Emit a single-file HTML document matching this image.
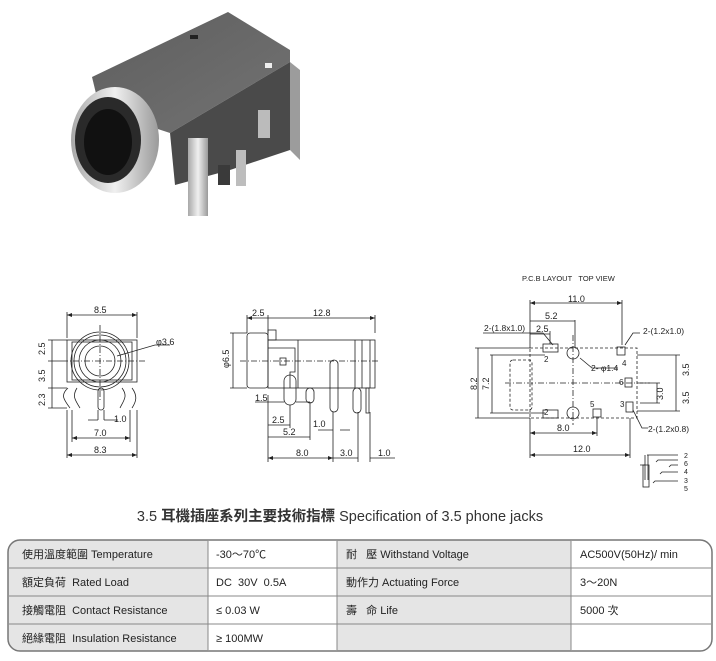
<!DOCTYPE html>
<html><head><meta charset="utf-8"><style>
body{margin:0;background:#fff;width:716px;height:656px;overflow:hidden;font-family:"Liberation Sans","Noto Sans CJK TC",sans-serif}
svg text{font-family:"Liberation Sans","Noto Sans CJK TC",sans-serif}
</style></head><body>
<svg width="716" height="656" viewBox="0 0 716 656" xmlns="http://www.w3.org/2000/svg">
<defs>
<linearGradient id="top" x1="0" y1="0" x2="1" y2="1"><stop offset="0" stop-color="#5e5e5e"/><stop offset="1" stop-color="#737373"/></linearGradient>
<linearGradient id="met" x1="0" y1="0" x2="1" y2="0"><stop offset="0" stop-color="#a8a8a8"/><stop offset=".5" stop-color="#f0f0f0"/><stop offset="1" stop-color="#9a9a9a"/></linearGradient>
<clipPath id="tc"><rect x="8" y="540" width="704" height="111" rx="12"/></clipPath>
</defs>
<!-- photo -->
<polygon points="92,77 228,12 290,50 290,62 170,133 100,110" fill="url(#top)"/>
<polygon points="170,133 290,62 290,150 230,170 175,185" fill="#4a4a4a"/>
<polygon points="290,62 300,70 300,160 290,150" fill="#9c9c9c"/>
<rect x="188" y="138" width="20" height="78" fill="url(#met)"/>
<rect x="236" y="150" width="10" height="36" fill="#bdbdbd"/>
<rect x="258" y="110" width="12" height="28" fill="#bbb"/>
<rect x="218" y="165" width="12" height="20" fill="#3a3a3a"/>
<rect x="190" y="35" width="8" height="4" fill="#222"/>
<rect x="265" y="63" width="7" height="5" fill="#eee"/>
<ellipse cx="115" cy="140" rx="44" ry="53" fill="url(#met)"/>
<ellipse cx="108" cy="140" rx="33" ry="43" fill="#2a2a2a"/>
<ellipse cx="108" cy="142" rx="24" ry="33" fill="#111"/>

<g fill="none" stroke="#222" stroke-width="0.8">
<rect x="67" y="340" width="70" height="42"/>
<rect x="72" y="342" width="60" height="38"/>
<circle cx="100" cy="361" r="29"/><circle cx="100" cy="361" r="26"/>
<circle cx="100" cy="361" r="21"/><circle cx="100" cy="361" r="15"/>
<path d="M62 361H145M100 325V400" stroke-dasharray="6 2 1 2"/>
<path d="M67 312V338M137 312V338M67 315H137"/>
<path d="M117 356L155 345H170"/>
<path d="M68 388C60 395 64 400 70 408M77 388C72 396 75 400 80 408M122 388C128 396 124 400 120 408M132 388C138 396 136 402 132 408"/>
<rect x="98" y="388" width="6" height="22" rx="3"/>
<path d="M48 340H67M48 361H62M48 388H67M48 408H67M52 340V408"/>
<path d="M98 410V420M104 410V420M88 420H98M104 420H118"/>
<path d="M72 410V442M130 410V442M72 438H130M67 410V458M137 410V458M67 455H137"/>
<rect x="247" y="333" width="21" height="55" rx="3"/>
<rect x="268" y="330" width="8" height="10"/>
<rect x="268" y="340" width="107" height="48"/>
<path d="M268 348H295V372H290V388M298 340V388M355 340V388M362 340V388M370 340V388"/>
<rect x="280" y="358" width="6" height="7"/>
<rect x="284" y="375" width="12" height="30" rx="6"/>
<rect x="306" y="388" width="8" height="15" rx="4"/>
<rect x="330" y="360" width="8" height="52" rx="4"/>
<rect x="353" y="388" width="8" height="25" rx="4"/>
<rect x="366" y="388" width="3" height="25"/>
<path d="M240 361H380" stroke-dasharray="6 2 1 2"/>
<path d="M247 315V333M268 315V333M375 315V333M247 318H375"/>
<path d="M230 333H247M230 388H247M233 333V388"/>
<path d="M255 402H284M296 402H310"/>
<path d="M268 395V462M290 405V428M268 425H290M310 402V440M268 437H310"/>
<path d="M333 412V462M358 412V462M370 412V462M268 458H333M333 458H358M370 458H395M318 430H333M340 430H350"/>
<rect x="530" y="348" width="107" height="70" stroke-dasharray="3 2"/>
<rect x="510" y="360" width="22" height="50" rx="3" stroke-dasharray="3 2"/>
<path d="M505 383H650M573 335V425" stroke-dasharray="6 2 1 2"/>
<rect x="543" y="344" width="15" height="8"/><rect x="543" y="410" width="15" height="8"/>
<circle cx="573" cy="353" r="6"/><circle cx="573" cy="413" r="6"/>
<rect x="617" y="347" width="8" height="8"/><rect x="625" y="378" width="7" height="9"/>
<rect x="626" y="402" width="7" height="10"/><rect x="593" y="409" width="8" height="8"/>
<path d="M530 300V348M622 300V345M530 303H622M575 320V348M530 321H575M550 331V344M530 334H550"/>
<path d="M483 333H543L553 345M625 345L633 333H640M580 358L592 368H618M633 410L642 428H648"/>
<path d="M475 348H530M475 418H530M478 348V418M490 355H545M490 413H545M492 355V413"/>
<path d="M637 355H680M637 411H680M676 355V411M640 383H660M640 403H660M657 383V403"/>
<path d="M530 418V458M597 418V436M530 433H597M630 418V458M530 455H630"/>
<path d="M645 455V480M648 455V480M640 465H645"/>
<rect x="643" y="465" width="6" height="22"/>
<path d="M647 455H678M656 462L658 460H678M669 467L671 465H678M660 474L662 472H678M653 483L655 481H678"/>
</g>
<g fill="#222">
<polygon points="67,315 72,313 72,317"/><polygon points="137,315 132,313 132,317"/>
<polygon points="247,318 252,316 252,320"/><polygon points="375,318 370,316 370,320"/>
<polygon points="530,303 535,301 535,305"/><polygon points="622,303 617,301 617,305"/>
<polygon points="67,455 72,453 72,457"/><polygon points="137,455 132,453 132,457"/>
<polygon points="72,438 77,436 77,440"/><polygon points="130,438 125,436 125,440"/>
<polygon points="530,455 535,453 535,457"/><polygon points="630,455 625,453 625,457"/>
<polygon points="530,433 535,431 535,435"/><polygon points="597,433 592,431 592,435"/>
<polygon points="268,458 273,456 273,460"/><polygon points="333,458 328,456 328,460"/>
</g>
<g font-size="9" fill="#222">
<text x="94" y="313">8.5</text><text x="156" y="345">φ3.6</text>
<text x="114" y="422">1.0</text><text x="94" y="436">7.0</text><text x="94" y="453">8.3</text>
<text transform="translate(45,355) rotate(-90)">2.5</text>
<text transform="translate(45,382) rotate(-90)">3.5</text>
<text transform="translate(45,406) rotate(-90)">2.3</text>
<text x="252" y="316">2.5</text><text x="313" y="316">12.8</text>
<text transform="translate(229,368) rotate(-90)">φ6.5</text>
<text x="255" y="401">1.5</text><text x="272" y="423">2.5</text><text x="283" y="435">5.2</text>
<text x="313" y="427">1.0</text><text x="296" y="456">8.0</text><text x="340" y="456">3.0</text><text x="378" y="456">1.0</text>
<text x="522" y="281" font-size="7.5">P.C.B LAYOUT&#160;&#160;&#160;TOP VIEW</text>
<text x="568" y="302">11.0</text><text x="545" y="319">5.2</text><text x="536" y="332">2.5</text>
<text x="484" y="331" font-size="8.5">2-(1.8x1.0)</text><text x="643" y="334" font-size="8.5">2-(1.2x1.0)</text>
<text x="591" y="371" font-size="8.5">2- φ1.4</text><text x="648" y="432" font-size="8.5">2-(1.2x0.8)</text>
<text x="544" y="362" font-size="8">2</text><text x="544" y="415" font-size="8">2</text>
<text x="622" y="366" font-size="8">4</text><text x="619" y="385" font-size="8">6</text>
<text x="620" y="407" font-size="8">3</text><text x="590" y="407" font-size="8">5</text>
<text x="557" y="431">8.0</text><text x="573" y="452">12.0</text>
<text transform="translate(477,390) rotate(-90)">8.2</text><text transform="translate(489,390) rotate(-90)">7.2</text>
<text transform="translate(689,376) rotate(-90)">3.5</text><text transform="translate(689,404) rotate(-90)">3.5</text>
<text transform="translate(663,400) rotate(-90)">3.0</text>
<g font-size="7"><text x="684" y="458">2</text><text x="684" y="466">6</text><text x="684" y="474">4</text><text x="684" y="483">3</text><text x="684" y="491">5</text></g>
</g>
<text x="340" y="521" text-anchor="middle" font-size="14.5" fill="#333">3.5 <tspan font-weight="bold">耳機插座系列主要技術指標</tspan> Specification of 3.5 phone jacks</text>
<g clip-path="url(#tc)">
<rect x="8" y="540" width="704" height="111" fill="#e5e5e5"/>
<rect x="208" y="540" width="129" height="111" fill="#fff"/>
<rect x="571" y="540" width="141" height="111" fill="#fff"/>
</g>
<rect x="8" y="540" width="704" height="111" rx="12" fill="none" stroke="#777" stroke-width="1.5"/>
<g stroke="#888" stroke-width="1"><path d="M9 568H711M9 596H711M9 624H711M208 541V650M337 541V650M571 541V650"/></g>
<g font-size="11" fill="#222">
<text x="22" y="558">使用溫度範圍 Temperature</text><text x="216" y="558">-30～70℃</text>
<text x="346" y="558">耐&#160;&#160;&#160;壓 Withstand Voltage</text><text x="580" y="558">AC500V(50Hz)/ min</text>
<text x="22" y="586">額定負荷&#160;&#160;Rated Load</text><text x="216" y="586">DC&#160;&#160;30V&#160;&#160;0.5A</text>
<text x="346" y="586">動作力 Actuating Force</text><text x="580" y="586">3～20N</text>
<text x="22" y="614">接觸電阻&#160;&#160;Contact Resistance</text><text x="216" y="614">≤ 0.03 W</text>
<text x="346" y="614">壽&#160;&#160;&#160;命 Life</text><text x="580" y="614">5000 次</text>
<text x="22" y="642">絕緣電阻&#160;&#160;Insulation Resistance</text><text x="216" y="642">≥ 100MW</text>
</g>
</svg>
</body></html>
